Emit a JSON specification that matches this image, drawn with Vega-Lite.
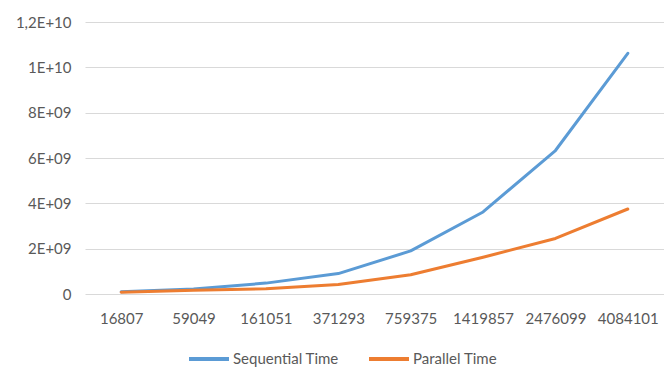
{
  "$schema": "https://vega.github.io/schema/vega-lite/v6.json",
  "autosize": {"type": "none"},
  "width": 579,
  "height": 272,
  "padding": {"left": 85, "top": 22, "right": 0, "bottom": 73},
  "background": "white",
  "config": {
    "view": {"stroke": null},
    "font": "Lato",
    "axis": {
      "labelFont": "Lato",
      "labelFontSize": 15,
      "labelColor": "#595959",
      "ticks": false,
      "domain": false,
      "title": null
    }
  },
  "data": {
    "values": [
      {"n": "16807", "series": "Sequential Time", "time": 100000000},
      {"n": "59049", "series": "Sequential Time", "time": 220000000},
      {"n": "161051", "series": "Sequential Time", "time": 480000000},
      {"n": "371293", "series": "Sequential Time", "time": 900000000},
      {"n": "759375", "series": "Sequential Time", "time": 1900000000},
      {"n": "1419857", "series": "Sequential Time", "time": 3620000000},
      {"n": "2476099", "series": "Sequential Time", "time": 6330000000},
      {"n": "4084101", "series": "Sequential Time", "time": 10620000000},
      {"n": "16807", "series": "Parallel Time", "time": 80000000},
      {"n": "59049", "series": "Parallel Time", "time": 170000000},
      {"n": "161051", "series": "Parallel Time", "time": 230000000},
      {"n": "371293", "series": "Parallel Time", "time": 420000000},
      {"n": "759375", "series": "Parallel Time", "time": 850000000},
      {"n": "1419857", "series": "Parallel Time", "time": 1620000000},
      {"n": "2476099", "series": "Parallel Time", "time": 2450000000},
      {"n": "4084101", "series": "Parallel Time", "time": 3750000000}
    ]
  },
  "mark": {"type": "line", "strokeWidth": 3, "strokeCap": "round", "strokeJoin": "round"},
  "encoding": {
    "x": {
      "field": "n",
      "type": "ordinal",
      "sort": null,
      "scale": {"type": "point", "padding": 0.5},
      "axis": {"labelAngle": 0, "labelPadding": 17, "grid": false}
    },
    "y": {
      "field": "time",
      "type": "quantitative",
      "scale": {"domain": [0, 12000000000], "nice": false},
      "axis": {
        "values": [0, 2000000000, 4000000000, 6000000000, 8000000000, 10000000000, 12000000000],
        "labelExpr": "datum.value == 0 ? '0' : datum.value == 2000000000 ? '2E+09' : datum.value == 4000000000 ? '4E+09' : datum.value == 6000000000 ? '6E+09' : datum.value == 8000000000 ? '8E+09' : datum.value == 10000000000 ? '1E+10' : '1,2E+10'",
        "labelPadding": 14,
        "grid": true,
        "gridColor": "#d9d9d9",
        "gridWidth": 1
      }
    },
    "color": {
      "field": "series",
      "type": "nominal",
      "scale": {"domain": ["Sequential Time", "Parallel Time"], "range": ["#5b9bd5", "#ed7d31"]},
      "legend": {
        "title": null,
        "orient": "none",
        "direction": "horizontal",
        "legendX": 102,
        "legendY": 315,
        "symbolType": "stroke",
        "symbolSize": 1600,
        "symbolStrokeWidth": 4,
        "labelFont": "Lato",
        "labelFontSize": 15,
        "labelColor": "#595959",
        "labelOffset": 2,
        "columnPadding": 22
      }
    }
  }
}
